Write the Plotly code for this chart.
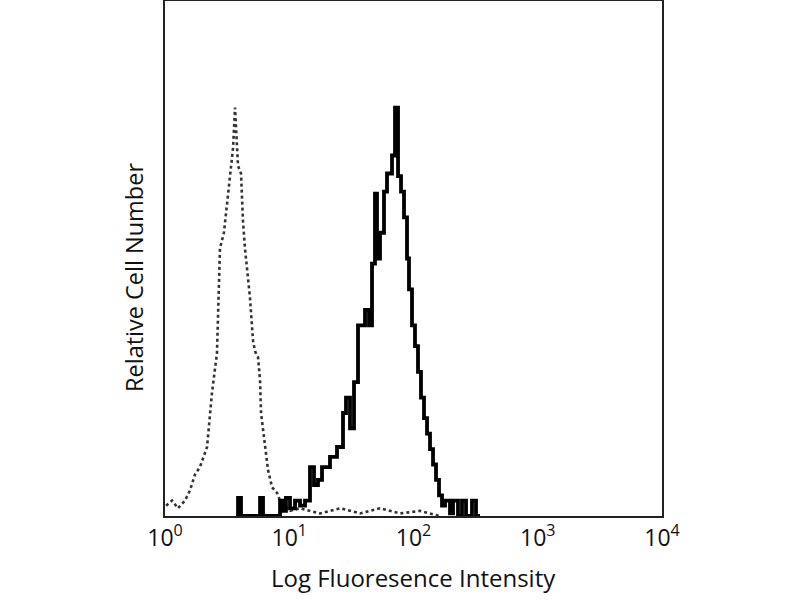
import plotly.graph_objects as go

# Stained sample (solid histogram), step outline: bin left edge intensity and relative count
stained_x = [3.73, 3.87, 4.09, 5.82, 6.15, 8.43, 8.91, 9.41, 10.14, 11.13, 12.21, 13.39,
             14.69, 15.82, 17.03, 18.35, 21.28, 24.23, 27.08, 28.62, 30.83, 33.20, 35.76,
             40.71, 43.85, 46.35, 48.98, 50.84, 53.75, 57.89, 61.19, 67.14, 71.00, 75.07,
             79.35, 83.87, 88.66, 91.99, 97.26, 102.8, 108.7, 114.9, 121.5, 128.5, 135.8,
             143.6, 151.8, 160.4, 169.6, 179.3, 196.7, 208.0, 228.1, 245.7, 264.6, 295.7,
             318.5, 342.9]
stained_y = [0, 3.5, 0, 3.5, 0, 3, 1, 3.5, 1.5, 3, 2, 3,
             9.5, 6, 7, 9.5, 11.5, 13.4, 20, 23, 17, 26, 37,
             40, 37, 49, 62.6, 50, 55, 63, 66.5, 70, 79.3, 66,
             63, 58, 50, 44, 37, 33, 28, 23, 19, 16, 13,
             10, 7, 4, 2, 3, 0.5, 3, 0, 3, 0, 3,
             0, 0]

# Isotype control (dotted histogram)
control_x = [1.02, 1.14, 1.27, 1.45, 1.59, 1.74, 1.91, 2.06, 2.18, 2.39, 2.62, 2.77,
             2.98, 3.16, 3.34, 3.53, 3.66, 3.87, 4.09, 4.24, 4.40, 4.57, 4.83, 5.11,
             5.30, 5.61, 5.82, 5.93, 6.15, 6.50, 6.75, 7.27, 7.97, 8.43, 9.24, 10.14,
             12.21, 17.68, 25.62, 37.11, 53.75, 77.88, 112.8, 163.4]
control_y = [2, 3, 1.5, 3, 5, 8, 9.5, 12, 13.4, 24, 31.6, 52,
             55, 60.7, 66.5, 71.5, 79.3, 68, 66.5, 57.4, 52, 48.3, 42.4, 34.1,
             32, 30.8, 26.4, 20, 16.7, 12.2, 8.9, 5.6, 4.5, 3, 2, 1,
             1.5, 0.5, 1.5, 0.5, 1.5, 0.5, 1, 0]

tick_vals = [1, 10, 100, 1000, 10000]
tick_text = ["10<sup>0</sup>", "10<sup>1</sup>", "10<sup>2</sup>", "10<sup>3</sup>", "10<sup>4</sup>"]

fig = go.Figure()
fig.add_trace(go.Scatter(x=control_x, y=control_y, mode="lines",
                         line=dict(color="#333333", width=2.6, dash="dot"),
                         showlegend=False, hoverinfo="skip"))
fig.add_trace(go.Scatter(x=stained_x, y=stained_y, mode="lines", line_shape="hv",
                         line=dict(color="black", width=3.8),
                         showlegend=False, hoverinfo="skip"))

ML, MR, MT, MB = 165, 138, 1, 84
fig.update_layout(
    width=800, height=600,
    margin=dict(l=ML, r=MR, t=MT, b=MB, autoexpand=False),
    paper_bgcolor="white", plot_bgcolor="white",
    font=dict(family="Open Sans", color="#111111"),
    xaxis=dict(type="log", range=[0, 4], tickvals=tick_vals, ticktext=tick_text,
               ticks="", showgrid=False, zeroline=False, automargin=False,
               showline=True, linecolor="#222222", linewidth=2, mirror=True,
               tickfont=dict(size=23, color="#111111")),
    yaxis=dict(range=[0, 100], showticklabels=False, ticks="", showgrid=False,
               zeroline=False, automargin=False, showline=True, linecolor="#222222",
               linewidth=2, mirror=True),
)
pw, ph = 800 - ML - MR, 600 - MT - MB
fig.add_annotation(text="Log Fluoresence Intensity", xref="paper", yref="paper",
                   x=0.5, y=(600 - MB - 577) / ph, xanchor="center", yanchor="middle",
                   showarrow=False, font=dict(size=24, color="#111111"))
fig.add_annotation(text="Relative Cell Number", xref="paper", yref="paper",
                   x=(134 - ML) / pw, y=(600 - MB - 278) / ph, textangle=-90,
                   xanchor="center", yanchor="middle", showarrow=False,
                   font=dict(size=23.5, color="#111111"))

fig.write_html("out.html", config={"displayModeBar": False},
               post_script="document.body.style.margin='0px';")
